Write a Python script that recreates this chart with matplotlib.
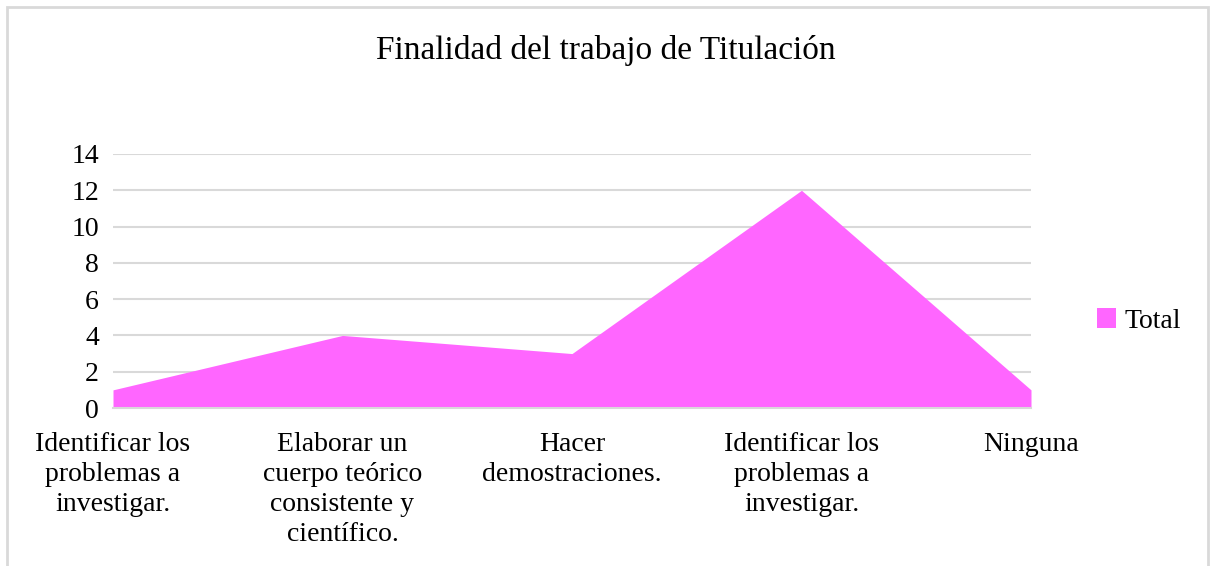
import numpy as np
import matplotlib.pyplot as plt
from matplotlib.patches import Rectangle

plt.rcParams['font.family'] = ['Liberation Serif', 'DejaVu Serif']

# data
categorias = ['Identificar los\nproblemas a\ninvestigar.',
              'Elaborar un\ncuerpo teórico\nconsistente y\ncientífico.',
              'Hacer\ndemostraciones.',
              'Identificar los\nproblemas a\ninvestigar.',
              'Ninguna']
total = [1, 4, 3, 12, 1]
yticks = [0, 2, 4, 6, 8, 10, 12, 14]

color_area = '#FF66FF'
grid_col = '#D9D9D9'

fig = plt.figure(figsize=(12.12, 5.66), dpi=100)
ax = fig.add_axes([113/1212, 1-408/566, (1031-113)/1212, (408-154)/566])

x = np.arange(len(total))
ax.fill_between(x, 0, total, color=color_area, linewidth=0, label='Total', zorder=2)

ax.set_xlim(0, len(total)-1)
ax.set_ylim(0, 14)
ax.set_yticks(yticks)
ax.set_yticklabels([str(v) for v in yticks], fontsize=20)
ax.set_xticks(x)
ax.set_xticklabels(categorias, fontsize=20, linespacing=1.27, va='top')
ax.tick_params(length=0, pad=10)
ax.tick_params(axis='x', pad=17)
ax.grid(axis='y', color=grid_col, linewidth=1.5, zorder=0)
for s in ['top', 'right', 'left']:
    ax.spines[s].set_visible(False)
ax.spines['bottom'].set_color(grid_col)
ax.spines['bottom'].set_linewidth(1.5)
ax.spines['bottom'].set_zorder(3)

fig.text(606/1212, 1-51/566, 'Finalidad del trabajo de Titulación', fontsize=24,
         ha='center', va='center')

leg = fig.legend(loc='center left', bbox_to_anchor=(1097/1212, 1-321/566), frameon=False,
                 fontsize=20, handlelength=0.7, handleheight=0.7, handletextpad=0.3,
                 borderaxespad=0, borderpad=0)

# chart border
fig.patches.append(Rectangle((7/1212, -0.05), (1208-7)/1212, 1.05-7/566,
                             transform=fig.transFigure, fill=False,
                             edgecolor=grid_col, linewidth=2))

fig.savefig('out.png', dpi=100)
